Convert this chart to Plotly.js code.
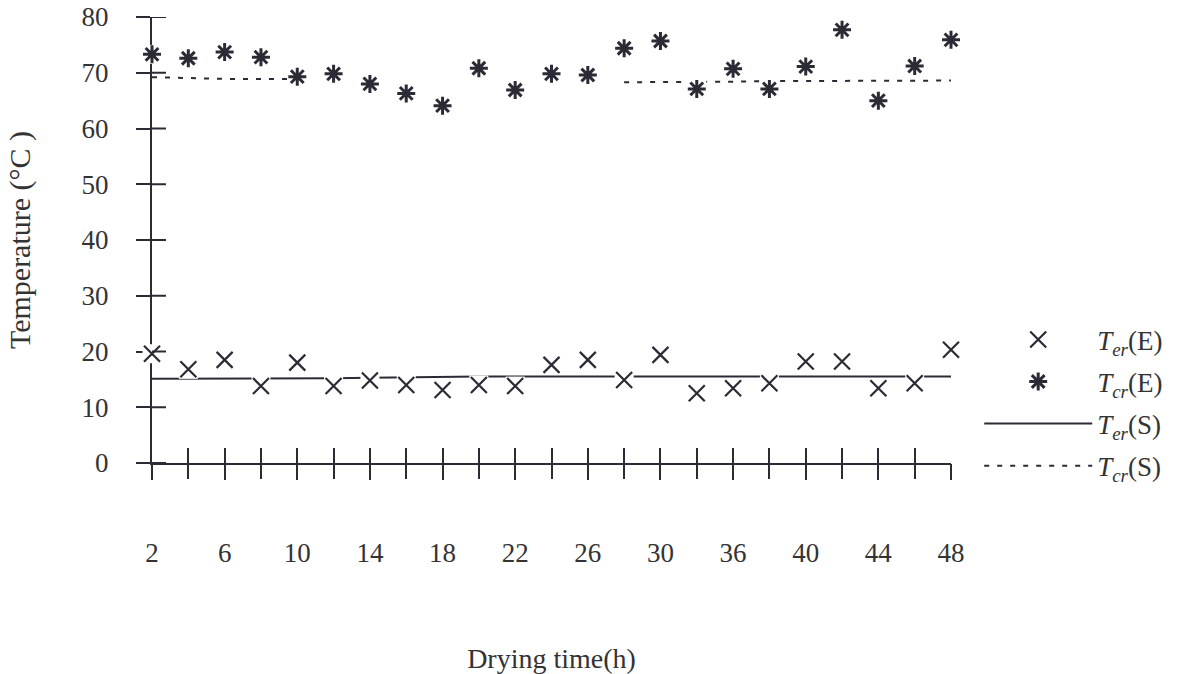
<!DOCTYPE html>
<html>
<head>
<meta charset="utf-8">
<script src="https://cdn.plot.ly/plotly-3.0.1.min.js"></script>
<style>html,body{margin:0;padding:0;background:#fff;}#chart{width:1179px;height:674px;}</style>
</head>
<body>
<div id="chart"></div>
<script>
// Drying time (h) — one category per measurement
const hours = [2,4,6,8,10,12,14,16,18,20,22,24,26,28,30,33,36,38,40,42,44,46,48];
// Labelled times on the x axis
const labelledHours = [2,6,10,14,18,22,26,30,36,40,44,48];
// Temperature ticks on the y axis, °C
const yTickVals = [0,10,20,30,40,50,60,70,80];
// Experimental evaporator temperature T_er(E), °C
const terE = [19.6,16.8,18.5,13.8,18.0,13.8,14.8,14.0,13.1,14.0,13.8,17.6,18.5,14.9,19.4,12.5,13.4,14.3,18.2,18.2,13.4,14.3,20.3];
// Experimental condenser temperature T_cr(E), °C
const tcrE = [73.3,72.6,73.7,72.8,69.3,69.8,68.0,66.3,64.1,70.8,66.9,69.8,69.6,74.4,75.7,67.1,70.7,67.1,71.1,77.7,65.0,71.2,75.9];
// Simulated evaporator temperature T_er(S), °C
const terS = [15.1,15.1,15.1,15.1,15.1,15.2,15.3,15.4,15.5,15.5,15.5,15.5,15.5,15.5,15.5,15.5,15.5,15.5,15.5,15.5,15.5,15.5,15.5];
// Simulated condenser temperature T_cr(S), °C (not drawn between 12 h and 26 h)
const tcrS = [69.2,69.0,68.9,68.9,68.9,null,null,null,null,null,null,null,null,68.3,68.3,68.3,68.4,68.5,68.5,68.5,68.6,68.6,68.6];

const ink = '#2b2b36';
const txt = '#333333';
const serif = 'Liberation Serif, Times New Roman, serif';

const W = 1179, H = 674;
const margin = {l: 152, r: 227, t: 17, b: 211, pad: 0};
const plotW = W - margin.l - margin.r;
const yTickLen = 14;

// helper (invisible) traces so the tick-only overlay x axes get drawn
function helper(xa) {
  return {x: hours, y: terS, xaxis: xa, yaxis: 'y', type: 'scatter', mode: 'none',
          showlegend: false, hoverinfo: 'skip'};
}

const traces = [
  {
    x: hours, y: terS, type: 'scatter', mode: 'lines',
    name: '<i>T</i><sub><i>er</i></sub>(S)', legendgroup: 'c', legendrank: 3,
    line: {color: ink, width: 2}
  },
  {
    x: hours, y: tcrS, type: 'scatter', mode: 'lines',
    name: '<i>T</i><sub><i>cr</i></sub>(S)', legendgroup: 'd', legendrank: 4,
    line: {color: ink, width: 2, dash: '5px,8px'}, connectgaps: false
  },
  {
    x: hours.concat(hours), y: terE.concat(tcrE), type: 'scatter', mode: 'markers',
    showlegend: false, hoverinfo: 'skip', cliponaxis: false,
    marker: {symbol: 'square', size: 19, color: '#ffffff', line: {width: 0}}
  },
  {
    x: hours, y: terE, type: 'scatter', mode: 'markers',
    name: '<i>T</i><sub><i>er</i></sub>(E)', legendgroup: 'a', legendrank: 1, cliponaxis: false,
    marker: {symbol: 'x-thin-open', size: 16, color: ink, line: {color: ink, width: 2.2}}
  },
  {
    x: hours, y: tcrE, type: 'scatter', mode: 'markers',
    name: '<i>T</i><sub><i>cr</i></sub>(E)', legendgroup: 'b', legendrank: 2, cliponaxis: false,
    marker: {symbol: 'asterisk-open', size: 15, color: ink, line: {color: ink, width: 3}}
  },
  helper('x2'),
  helper('x3')
];

const tickOnly = {
  showticklabels: false, showline: false, showgrid: false, zeroline: false,
  tickwidth: 2, tickcolor: ink
};

// inner half of the crossing y-axis ticks
const yInnerTicks = yTickVals.map(v => ({
  type: 'line', xref: 'x domain', yref: 'y',
  x0: 0, x1: yTickLen / plotW, y0: v, y1: v,
  line: {color: ink, width: 2}, layer: 'above'
}));

const layout = {
  width: W, height: H,
  margin: margin,
  paper_bgcolor: '#ffffff', plot_bgcolor: '#ffffff',
  font: {family: serif, color: txt, size: 27},
  showlegend: true,
  hovermode: false,
  legend: {
    x: 1.034, xanchor: 'left', y: 0.331, yanchor: 'top',
    font: {family: serif, size: 27, color: txt},
    bgcolor: 'rgba(0,0,0,0)', borderwidth: 0,
    itemwidth: 108, tracegroupgap: 4, traceorder: 'grouped'
  },
  xaxis: {
    type: 'category', range: [0, 22],
    tickmode: 'array', tickvals: labelledHours, ticktext: labelledHours.map(String),
    ticks: 'outside', ticklen: 15, tickwidth: 2, tickcolor: ink,
    showline: true, linecolor: ink, linewidth: 2,
    showgrid: false, zeroline: false, layer: 'below traces',
    tickfont: {family: serif, size: 27, color: txt}, ticklabelstandoff: 50,
    title: {text: 'Drying time(h)', font: {family: serif, size: 28, color: txt}, standoff: 90},
    automargin: false
  },
  xaxis2: Object.assign({
    overlaying: 'x', anchor: 'y', side: 'bottom', type: 'category', range: [0, 22],
    tickmode: 'array', tickvals: hours, ticks: 'outside', ticklen: 15
  }, tickOnly),
  xaxis3: Object.assign({
    overlaying: 'x', anchor: 'y', side: 'bottom', type: 'category', range: [0, 22],
    tickmode: 'array', tickvals: hours, ticks: 'inside', ticklen: 15
  }, tickOnly),
  yaxis: {
    range: [0, 80], tickmode: 'array', tickvals: yTickVals,
    ticks: 'outside', ticklen: yTickLen, tickwidth: 2, tickcolor: ink,
    showline: true, linecolor: ink, linewidth: 2,
    showgrid: false, zeroline: false, layer: 'below traces',
    tickfont: {family: serif, size: 27, color: txt}, ticklabelstandoff: 22,
    title: {text: 'Temperature (°C )', font: {family: serif, size: 30, color: txt}, standoff: 42},
    automargin: false
  },
  shapes: yInnerTicks
};

Plotly.newPlot('chart', traces, layout, {displayModeBar: false, staticPlot: true});
</script>
</body>
</html>
